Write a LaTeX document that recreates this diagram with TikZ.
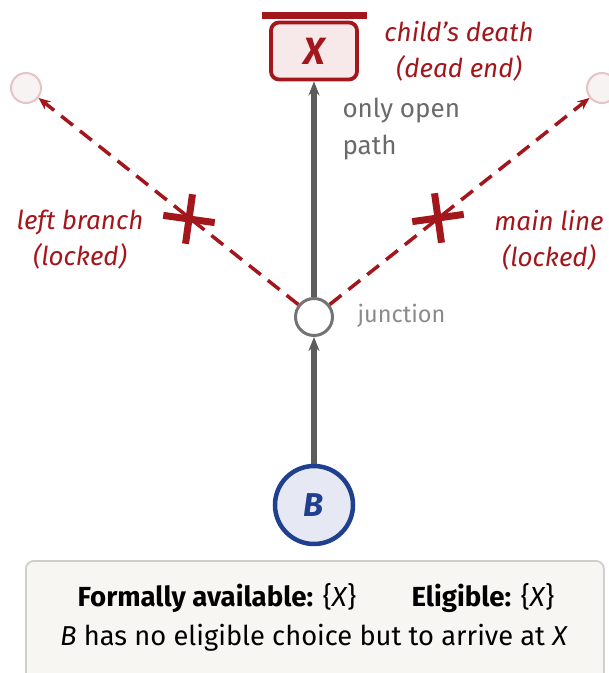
\documentclass[tikz,border=0pt]{standalone}
\usepackage{fontspec}
\setmainfont{Fira Sans}
\usetikzlibrary{arrows.meta}
\definecolor{dred}{HTML}{A3161C}
\definecolor{pinkfill}{HTML}{F7E8E9}
\definecolor{arrowgrey}{HTML}{5C5C5C}
\definecolor{textgrey}{HTML}{6A6A6A}
\definecolor{lightgrey}{HTML}{8A8A8A}
\definecolor{bblue}{HTML}{1F3F8F}
\definecolor{bfill}{HTML}{E6E9F4}
\definecolor{fadefill}{HTML}{F8F3F3}
\definecolor{fadedraw}{HTML}{E6C3C4}
\definecolor{panelfill}{HTML}{F7F6F2}
\definecolor{paneldraw}{HTML}{CFCFCB}
\tikzset{
  solidpath/.style={draw=arrowgrey, line width=5.5pt, -{Stealth[length=14pt,width=11pt]}},
  lockedpath/.style={draw=dred, line width=3.5pt, dash pattern=on 15pt off 9pt, -{Stealth[length=12pt,width=10pt]}},
  crossbar/.style={draw=dred, line width=7pt},
  redlabel/.style={text=dred, font=\fontsize{26}{36}\selectfont\itshape, align=center},
  fadenode/.style={circle, minimum size=30pt, inner sep=0pt, fill=fadefill, draw=fadedraw, line width=2pt},
}
\begin{document}
\begin{tikzpicture}[x=1pt, y=-1pt]
\useasboundingbox (0,0) rectangle (609,673);

% target node and its closing bar
\node[draw=dred, fill=pinkfill, line width=3.8pt, rounded corners=8pt,
      minimum width=86pt, minimum height=57pt, inner sep=0pt,
      text=dred, font=\fontsize{38}{38}\selectfont\bfseries\itshape] (X) at (314,51) {X};
\draw[dred, line width=7pt] (262,15) -- (367,15);
\node[redlabel, anchor=center] (xlab) at (459,51) {child’s death\\(dead end)};

% junction and start
\node[circle, draw=arrowgrey!85, fill=white, line width=3pt, minimum size=37pt, inner sep=0pt] (J) at (314,317) {};
\node[circle, draw=bblue, fill=bfill, line width=4.5pt, minimum size=78pt, inner sep=0pt,
      text=bblue, font=\fontsize{33}{33}\selectfont\bfseries\itshape] (B) at (314,505) {B};
\node[anchor=west, text=lightgrey, font=\fontsize{23.5}{23.5}\selectfont] (jlab) at (354,316) {junction};

% faded targets
\node[fadenode] (L) at (26,88) {};
\node[fadenode] (R) at (602,88) {};

% paths
\draw[solidpath] (B) -- (J);
\draw[solidpath] (J) -- (X);
\node[anchor=west, text=textgrey, font=\fontsize{26}{37}\selectfont, align=left] (olab) at (339,129) {only open\\path};

\draw[lockedpath] (J) -- (L);
\draw[lockedpath] (J) -- (R);

% crosses on locked paths
\begin{scope}[shift={(189,219)}, rotate=-8]
  \draw[crossbar] (-26,0) -- (26,0);
  \draw[crossbar] (0,-25) -- (0,25);
\end{scope}
\begin{scope}[shift={(438,218)}, rotate=8]
  \draw[crossbar] (-26,0) -- (26,0);
  \draw[crossbar] (0,-25) -- (0,25);
\end{scope}
\node[redlabel] (llab) at (80,240) {left branch\\(locked)};
\node[redlabel] (rlab) at (549,240) {main line\\(locked)};

% summary panel
\node[draw=paneldraw, fill=panelfill, line width=1.8pt, rounded corners=8pt,
      minimum width=578pt, minimum height=140pt, inner sep=0pt, anchor=north west] (panel) at (25,560) {};
\node[font=\fontsize{27.6}{27.6}\selectfont] (l1) at (316,598)
  {\textbf{Formally available:} \{\textit{X}\}\hspace{2em}\textbf{Eligible:} \{\textit{X}\}};
\node[font=\fontsize{27.3}{27.3}\selectfont] (l2) at (314,638)
  {\textit{B} has no eligible choice but to arrive at \textit{X}};
\end{tikzpicture}
\end{document}
